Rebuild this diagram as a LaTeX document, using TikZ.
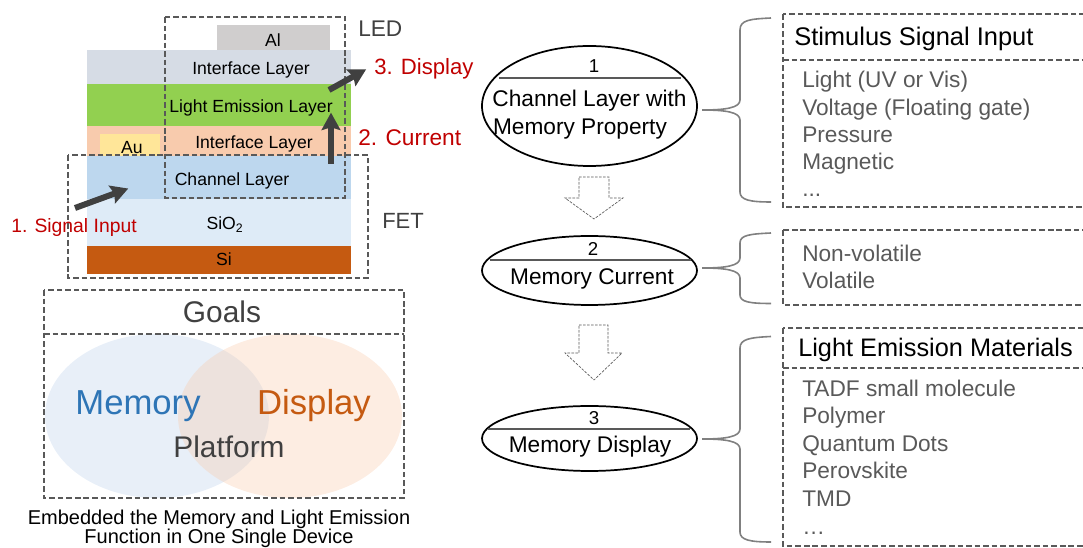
\documentclass[tikz,border=0pt]{standalone}
\usepackage{fontspec}
\setmainfont{Liberation Sans}
\definecolor{dk}{HTML}{404040}
\definecolor{md}{HTML}{595959}
\definecolor{rd}{HTML}{C00000}
\definecolor{brc}{HTML}{808080}
\newcommand{\fsz}[1]{\fontsize{#1}{#1}\selectfont}
\tikzset{
  dbox/.style={draw=md,line width=1.9pt,dash pattern=on 4.2pt off 2.2pt},
  tc/.style={anchor=base,inner sep=0,text=black,font=\fsz{13.2}},
  tl/.style={anchor=base west,inner sep=0,text=md,font=\fsz{17}},
  th/.style={anchor=base west,inner sep=0,text=black,font=\fsz{19.1}},
  tr/.style={anchor=base west,inner sep=0,text=rd,font=\fsz{17}},
  te/.style={anchor=base,inner sep=0,text=black,font=\fsz{17}},
  oval/.style={ellipse,draw=black,line width=1.3pt,inner sep=0,fill=none},
  sep/.style={draw=md,line width=1.5pt},
  bigarrow/.style={draw=dk,line width=4.5pt,-{Stealth[length=13pt,width=14pt,inset=2pt]},shorten >=-1pt},
  hollow/.style={draw=md,line width=0.5pt,dash pattern=on 2pt off 1pt},
  brace/.style={draw=brc,line width=1.2pt},
}
\usetikzlibrary{shapes.geometric,arrows.meta}
\begin{document}
\begin{tikzpicture}[x=0.75pt,y=-0.75pt]
\clip (0,0) rectangle (1083,548);
\useasboundingbox (0,0) rectangle (1083,548);
% layers
\fill[fill={rgb,255:red,208;green,206;blue,206}] (217,25) rectangle (330,50);
\fill[fill={rgb,255:red,214;green,220;blue,229}] (87,50) rectangle (351,84);
\fill[fill={rgb,255:red,146;green,208;blue,80}] (87,84) rectangle (351,126);
\fill[fill={rgb,255:red,248;green,203;blue,173}] (87,126) rectangle (351,157);
\fill[fill={rgb,255:red,255;green,230;blue,153}] (100,134) rectangle (160,156);
\fill[fill={rgb,255:red,189;green,215;blue,238}] (87,156) rectangle (351,199);
\fill[fill={rgb,255:red,222;green,235;blue,247}] (87,199) rectangle (351,246);
\fill[fill={rgb,255:red,197;green,90;blue,17}] (87,246) rectangle (351,274);
% dashed frames
\draw[dbox] (165,17) rectangle (345,198);
\draw[dbox] (68,155) rectangle (368,278);
% layer labels
\node[tc] (al) at (273,47) {Al};
\node[tc] (il1) at (251,75) {Interface Layer};
\node[tc] (lel) at (251,112.5) {Light Emission Layer};
\node[tc] (il2) at (254,149) {Interface Layer};
\node[tc] (au) at (132,154) {Au};
\node[tc] (ch) at (232,186) {Channel Layer};
\node[tc] (sio) at (225,229.5) {SiO\textsubscript{2}};
\node[tc] (si) at (224,266) {Si};
\node[tl,text=dk] (led) at (358,37) {LED};
\node[tl,text=dk,font=\fsz{16.5}] (fet) at (382,228.5) {FET};
\node[tr,font=\fsz{16.6}] (t3) at (374,75) {3. Display};
\node[tr] (t2) at (358,146) {2. Current};
\node[tr,font=\fsz{14.5}] (t1) at (11,233) {1. Signal Input};
% flow arrows
\coordinate (a1s) at (75,208); \coordinate (a1e) at (127,189);
\coordinate (a2s) at (331,164); \coordinate (a2e) at (331,114);
\coordinate (a3s) at (329,90); \coordinate (a3e) at (365,70);
\draw[bigarrow] (a1s) -- (a1e);
\draw[bigarrow] (a2s) -- (a2e);
\draw[bigarrow] (a3s) -- (a3e);
% goals
\fill[fill={rgb,255:red,232;green,239;blue,248}] (157,416) ellipse [x radius=112,y radius=82];
\fill[fill={rgb,255:red,248;green,203;blue,173},fill opacity=0.35] (290,416) ellipse [x radius=112,y radius=82];
\draw[dbox] (44,290) rectangle (404,498);
\draw[dbox] (44,334) -- (404,334);
\node[tc,text=dk,font=\fsz{22.4}] (goals) at (222,323) {Goals};
\node[tc,text={rgb,255:red,46;green,117;blue,182},font=\fsz{26}] (mem) at (138,415) {Memory};
\node[tc,text={rgb,255:red,197;green,90;blue,17},font=\fsz{26}] (dis) at (314,415) {Display};
\node[tc,text=dk,font=\fsz{22.4}] (pla) at (229,458) {Platform};
\node[tc,font=\fsz{15}] (cap1) at (219,524.5) {Embedded the Memory and Light Emission};
\node[tc,font=\fsz{15}] (cap2) at (219,543.6) {Function in One Single Device};
% ovals
\node[oval,minimum width=161.25pt,minimum height=90pt] (o1) at (589.5,106) {};
\node[oval,minimum width=161.25pt,minimum height=51.75pt] (o2) at (589.5,270.5) {};
\node[oval,minimum width=161.25pt,minimum height=48.75pt] (o3) at (589.5,438.5) {};
\draw[sep] (499,78) -- (681,78);
\draw[sep] (490,260) -- (691,260);
\draw[sep] (488,429) -- (690,429);
\node[te,font=\fsz{14}] (n1) at (594,73) {1};
\node[te] (c1) at (589.5,107) {Channel Layer with};
\node[te] (c2) at (580,135) {Memory Property};
\node[te,font=\fsz{14}] (n2) at (593,256) {2};
\node[te] (c3) at (592,285) {Memory Current};
\node[te,font=\fsz{14}] (n3) at (594,425) {3};
\node[te] (c4) at (590,452.5) {Memory Display};
% hollow arrows
\draw[hollow] (579,177) -- (609,177) -- (609,198) -- (623,198) -- (594,219) -- (565,198) -- (579,198) -- cycle;
\draw[hollow] (579,325) -- (608,325) -- (608,353) -- (622,353) -- (594,380) -- (565,353) -- (579,353) -- cycle;
% braces
\coordinate (b1) at (702,110); \coordinate (b2) at (702,268); \coordinate (b3) at (702,439);
\draw[brace] (771,18) .. controls (750,19) and (740,20) .. (740,30) -- (740,100) .. controls (740,108) and (725,110) .. (b1) .. controls (725,110) and (740,112) .. (740,120) -- (740,192) .. controls (740,200) and (750,202) .. (771,202);
\draw[brace] (771,233) .. controls (750,234) and (740,235) .. (740,243) -- (740,258) .. controls (740,266) and (725,268) .. (b2) .. controls (725,268) and (740,270) .. (740,278) -- (740,295) .. controls (740,302) and (750,303.5) .. (771,303.5);
\draw[brace] (771,336.5) .. controls (750,337.5) and (740,339) .. (740,348) -- (740,429) .. controls (740,437) and (725,439) .. (b3) .. controls (725,439) and (740,441) .. (740,449) -- (740,532) .. controls (740,540) and (750,542) .. (771,542);
% right boxes
\draw[dbox] (783,14) rectangle (1095,207);
\draw[dbox] (783,60) -- (1095,60);
\draw[dbox] (783,230) rectangle (1095,305);
\draw[dbox] (783,328) rectangle (1095,546);
\draw[dbox] (783,368) -- (1095,368);
\node[th] (h1) at (794,46) {Stimulus Signal Input};
\node[tl] (s1) at (802,88) {Light (UV or Vis)};
\node[tl] (s2) at (802,116) {Voltage (Floating gate)};
\node[tl] (s3) at (802,143) {Pressure};
\node[tl] (s4) at (802,170) {Magnetic};
\node[tl] (s5) at (802,197) {...};
\node[tl] (v1) at (802,262) {Non-volatile};
\node[tl] (v2) at (802,289) {Volatile};
\node[th,font=\fsz{19}] (h2) at (798,357) {Light Emission Materials};
\node[tl] (m1) at (802,396.5) {TADF small molecule};
\node[tl] (m2) at (802,424) {Polymer};
\node[tl] (m3) at (802,451.5) {Quantum Dots};
\node[tl] (m4) at (802,479) {Perovskite};
\node[tl] (m5) at (802,506.5) {TMD};
\node[tl] (m6) at (802,535) {…};
\end{tikzpicture}
\end{document}
